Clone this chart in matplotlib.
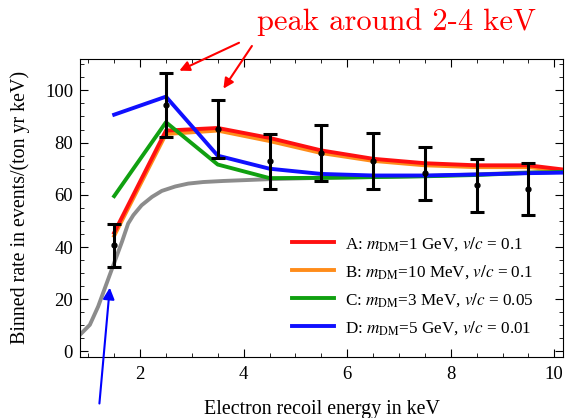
import matplotlib
matplotlib.use('Agg')
from matplotlib import pyplot as plt
from matplotlib.ticker import MultipleLocator

plt.rcParams['font.family'] = ['Liberation Serif', 'DejaVu Serif']
plt.rcParams['mathtext.fontset'] = 'stix'

# binned data with error bars
bins = [1.5, 2.5, 3.5, 4.5, 5.5, 6.5, 7.5, 8.5, 9.5]
rate = [40.7, 94.4, 85.3, 72.9, 76.0, 72.9, 68.3, 63.6, 62.1]
err = [8.2, 12.2, 11.2, 10.5, 10.8, 10.6, 10.1, 10.3, 10.0]

# model curves (bin centres + edge point)
xm = [1.5, 2.5, 3.5, 4.5, 5.5, 6.5, 7.5, 8.5, 9.5, 10.5]
curve_a = [45.5, 84.6, 85.6, 81.8, 77.0, 73.8, 72.1, 71.3, 71.3, 68.9]
curve_b = [44.3, 83.3, 84.6, 80.6, 76.0, 73.0, 71.3, 70.6, 70.6, 68.7]
curve_c = [59.5, 87.8, 71.6, 66.4, 66.5, 66.8, 67.1, 67.6, 68.4, 69.0]
curve_d = [90.7, 97.6, 75.0, 70.0, 68.0, 67.4, 67.4, 67.8, 68.3, 68.6]

# background (grey)
bg_x = [0.86, 1.03, 1.19, 1.39, 1.52, 1.65, 1.77, 1.87, 2.03, 2.23, 2.42, 2.68,
        2.93, 3.22, 3.6, 4.5, 5.5, 6.5, 7.5, 8.5, 9.5, 10.3]
bg_y = [6.8, 10.2, 17.2, 28.0, 35.0, 42.0, 49.0, 52.2, 56.0, 59.2, 61.5, 63.2,
        64.3, 64.9, 65.3, 66.0, 66.5, 66.8, 67.2, 67.8, 68.6, 69.1]

labels = [r'A: $m_{\rm DM}$=1 GeV, $v/c$ = 0.1',
          r'B: $m_{\rm DM}$=10 MeV, $v/c$ = 0.1',
          r'C: $m_{\rm DM}$=3 MeV, $v/c$ = 0.05',
          r'D: $m_{\rm DM}$=5 GeV, $v/c$ = 0.01']

fig = plt.figure(figsize=(5.65, 4.18), dpi=100)
ax = fig.add_axes([0.1416, 0.1467, 0.855, 0.712])

ax.plot(bg_x, bg_y, color='#8c8c8c', lw=2.8, zorder=2)
ax.plot(xm, curve_b, color='#ff8c1a', lw=2.8, label=labels[1], zorder=3)
ax.plot(xm, curve_a, color='#ff1010', lw=2.8, label=labels[0], zorder=3)
ax.plot(xm, curve_c, color='#10a010', lw=2.8, label=labels[2], zorder=3)
ax.plot(xm, curve_d, color='#1010ff', lw=2.8, label=labels[3], zorder=3)

ax.errorbar(bins, rate, yerr=err, fmt='o', color='black', ms=3.5, lw=2.2,
            capsize=5, capthick=2.2, zorder=5)

ax.set_xlim(0.84, 10.17)
ax.set_ylim(-2, 112)
ax.xaxis.set_major_locator(MultipleLocator(2))
ax.xaxis.set_minor_locator(MultipleLocator(0.5))
ax.yaxis.set_major_locator(MultipleLocator(20))
ax.yaxis.set_minor_locator(MultipleLocator(5))
ax.tick_params(which='both', direction='in', top=True, right=True, labelsize=13.5)
ax.tick_params(which='major', length=6)
ax.tick_params(which='minor', length=3)
ax.tick_params(axis='x', pad=7)
ax.tick_params(axis='y', pad=5)

ax.set_xlabel('Electron recoil energy in keV', fontsize=14.4, labelpad=12)
ax.set_ylabel('Binned rate in events/(ton yr keV)', fontsize=14.4, labelpad=11)

h, l = ax.get_legend_handles_labels()
order = [1, 0, 2, 3]
ax.legend([h[i] for i in order], [l[i] for i in order], loc='lower right',
          frameon=False, fontsize=12.3, handlelength=2.5, handletextpad=0.6,
          labelspacing=0.6, bbox_to_anchor=(0.97, 0.015))

# annotations
ax.text(4.26, 123.2, 'peak around 2-4 keV', color='red', fontsize=22,
        family='cmr10', ha='left', va='baseline', clip_on=False)
ax.annotate('', xy=(2.71, 107.1), xytext=(3.96, 118.7), annotation_clip=False,
            arrowprops=dict(arrowstyle='-|>', color='red', lw=1.5, mutation_scale=15))
ax.annotate('', xy=(3.58, 99.8), xytext=(4.19, 117.9), annotation_clip=False,
            arrowprops=dict(arrowstyle='-|>', color='red', lw=1.5, mutation_scale=15))
ax.annotate('', xy=(1.42, 25.5), xytext=(1.21, -21.0), annotation_clip=False,
            arrowprops=dict(arrowstyle='-|>', color='blue', lw=1.5, mutation_scale=17))

fig.savefig('out.png', dpi=100)
